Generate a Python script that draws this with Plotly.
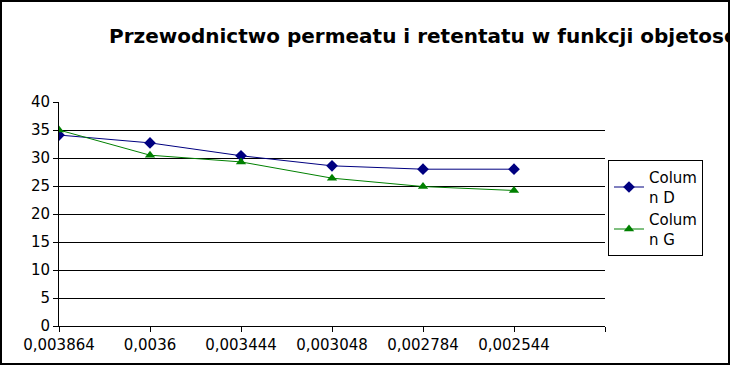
import plotly.graph_objects as go

categories = ["0,003864", "0,0036", "0,003444", "0,003048", "0,002784", "0,002544"]
col_d = [34.1, 32.7, 30.4, 28.6, 28.0, 28.0]
col_g = [35.0, 30.5, 29.3, 26.4, 24.9, 24.2]
y_ticks = [0, 5, 10, 15, 20, 25, 30, 35, 40]

W, H = 730, 365
L, R, T, B = 59, 605, 102, 326
pw, ph = R - L, B - T

def px_x(x):
    return (x - L) / pw

def px_y(y):
    return (B - y) / ph

xs = list(range(len(categories)))

fig = go.Figure()
fig.add_trace(go.Scatter(
    x=xs, y=col_d, name="Colum<br>n D", mode="lines+markers",
    line=dict(color="#000080", width=1),
    marker=dict(symbol="diamond", size=9, color="#000080"),
))
fig.add_trace(go.Scatter(
    x=xs, y=col_g, name="Colum<br>n G", mode="lines+markers",
    line=dict(color="#008000", width=1),
    marker=dict(symbol="triangle-up", size=9, color="#008000"),
))

fig.update_layout(
    width=W, height=H,
    margin=dict(l=L, r=W - R, t=T, b=H - B),
    paper_bgcolor="white", plot_bgcolor="white",
    font=dict(family="DejaVu Sans", size=15, color="black"),
    showlegend=True,
    legend=dict(
        x=px_x(608), y=px_y(160), xanchor="left", yanchor="top",
        bordercolor="black", borderwidth=1, bgcolor="white",
        font=dict(family="DejaVu Sans", size=15),
        tracegroupgap=4,
    ),
    xaxis=dict(
        range=[0, len(categories)], tickmode="array",
        tickvals=list(range(len(categories) + 1)),
        ticktext=categories + [""],
        showgrid=False, zeroline=False,
        showline=True, linecolor="black", linewidth=1,
        ticks="outside", ticklen=5, tickcolor="black",
        tickfont=dict(family="DejaVu Sans", size=15),
        fixedrange=True,
    ),
    yaxis=dict(
        range=[0, 40], tickmode="array", tickvals=y_ticks,
        showgrid=True, gridcolor="black", gridwidth=1,
        zeroline=False,
        showline=True, linecolor="black", linewidth=1,
        ticks="outside", ticklen=5, tickcolor="black",
        tickfont=dict(family="DejaVu Sans", size=15),
        fixedrange=True,
    ),
    annotations=[dict(
        text="<b>Przewodnictwo permeatu i retentatu w funkcji objetosci permeatu</b>",
        xref="paper", yref="paper", x=px_x(107), y=px_y(36),
        xanchor="left", yanchor="middle", showarrow=False,
        font=dict(family="DejaVu Sans", size=20, color="black"),
    )],
    shapes=[dict(
        type="rect", xref="paper", yref="paper",
        x0=px_x(1), x1=px_x(729), y0=px_y(364), y1=px_y(1),
        line=dict(color="black", width=2), fillcolor="rgba(0,0,0,0)",
        layer="above",
    )],
)

fig.write_html("out.html", config={"displayModeBar": False})
